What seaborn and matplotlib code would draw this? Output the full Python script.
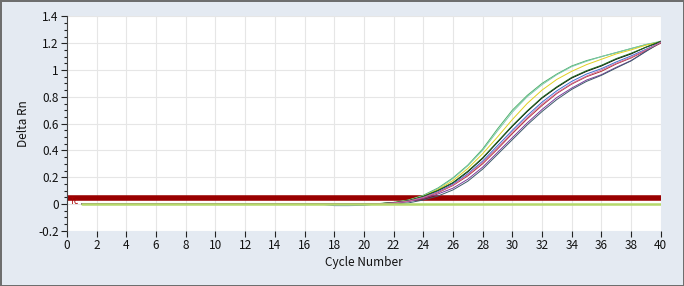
import matplotlib
matplotlib.use("Agg")
import matplotlib.pyplot as plt
import seaborn as sns
import pandas as pd
from matplotlib.ticker import MultipleLocator, FuncFormatter

sns.set_theme(style="white")
plt.rcParams['font.family'] = ['Noto Sans CJK SC', 'DejaVu Sans']

cycles = list(range(1, 41))

curve_a = [0.0, 0.0, 0.0, 0.0, 0.0, 0.0, 0.0, 0.0, 0.0, 0.0,
           0.0, 0.0, 0.0, 0.0, 0.0, 0.0, 0.0, 0.0, 0.0, 0.001,
           0.003, 0.012, 0.03, 0.065, 0.12, 0.195, 0.29, 0.41, 0.56, 0.70,
           0.81, 0.90, 0.97, 1.03, 1.07, 1.10, 1.13, 1.16, 1.19, 1.21]
curve_b = [0.0, 0.0, 0.0, 0.0, 0.0, 0.0, 0.0, 0.0, 0.0, 0.0,
           0.0, 0.0, 0.0, 0.0, 0.0, 0.0, 0.0, 0.0, 0.0, 0.001,
           0.003, 0.011, 0.028, 0.062, 0.115, 0.19, 0.285, 0.40, 0.545, 0.685,
           0.80, 0.89, 0.965, 1.025, 1.065, 1.10, 1.13, 1.16, 1.19, 1.215]
curve_c = [0.0, 0.0, 0.0, 0.0, 0.0, 0.0, 0.0, 0.0, 0.0, 0.0,
           0.0, 0.0, 0.0, 0.0, 0.0, 0.0, 0.0, 0.0, 0.0, 0.0,
           0.002, 0.01, 0.026, 0.058, 0.108, 0.175, 0.265, 0.375, 0.50, 0.63,
           0.75, 0.85, 0.93, 0.99, 1.04, 1.08, 1.12, 1.15, 1.185, 1.21]
curve_d = [0.0, 0.0, 0.0, 0.0, 0.0, 0.0, 0.0, 0.0, 0.0, 0.0,
           0.0, 0.0, 0.0, 0.0, 0.0, 0.0, 0.0, 0.0, 0.0, 0.0,
           0.002, 0.009, 0.024, 0.055, 0.10, 0.157, 0.24, 0.34, 0.46, 0.58,
           0.69, 0.79, 0.87, 0.94, 0.99, 1.03, 1.08, 1.12, 1.17, 1.21]
curve_e = [0.0, 0.0, 0.0, 0.0, 0.0, 0.0, 0.0, 0.0, 0.0, 0.0,
           0.0, 0.0, 0.0, 0.0, 0.0, 0.0, 0.0, 0.0, 0.0, 0.0,
           0.002, 0.009, 0.024, 0.056, 0.102, 0.16, 0.245, 0.345, 0.465, 0.585,
           0.695, 0.795, 0.875, 0.945, 0.995, 1.035, 1.085, 1.125, 1.17, 1.215]
curve_f = [0.0, 0.0, 0.0, 0.0, 0.0, 0.0, 0.0, 0.0, 0.0, 0.0,
           0.0, 0.0, 0.0, 0.0, 0.0, 0.0, 0.0, -0.012, -0.012, -0.01,
           0.002, 0.008, 0.022, 0.05, 0.092, 0.148, 0.225, 0.32, 0.435, 0.55,
           0.66, 0.76, 0.845, 0.915, 0.97, 1.01, 1.06, 1.105, 1.155, 1.205]
curve_g = [0.0, 0.0, 0.0, 0.0, 0.0, 0.0, 0.0, 0.0, 0.0, 0.0,
           0.0, 0.0, 0.0, 0.0, 0.0, 0.0, 0.0, 0.0, 0.0, 0.0,
           0.001, 0.007, 0.02, 0.046, 0.085, 0.138, 0.21, 0.30, 0.41, 0.525,
           0.635, 0.735, 0.825, 0.895, 0.95, 0.99, 1.045, 1.09, 1.145, 1.20]
curve_h = [0.0, 0.0, 0.0, 0.0, 0.0, 0.0, 0.0, 0.0, 0.0, 0.0,
           0.0, 0.0, 0.0, 0.0, 0.0, 0.0, 0.0, 0.0, 0.0, 0.0,
           0.001, 0.006, 0.018, 0.04, 0.075, 0.118, 0.185, 0.275, 0.385, 0.495,
           0.605, 0.705, 0.795, 0.865, 0.925, 0.965, 1.02, 1.07, 1.14, 1.21]
curve_i = [0.0, 0.0, 0.0, 0.0, 0.0, 0.0, 0.0, 0.0, 0.0, 0.0,
           0.0, 0.0, 0.0, 0.0, 0.0, 0.0, 0.0, 0.0, 0.0, 0.0,
           -0.002, 0.0, 0.008, 0.03, 0.06, 0.105, 0.17, 0.26, 0.37, 0.48,
           0.59, 0.69, 0.78, 0.855, 0.915, 0.96, 1.015, 1.068, 1.138, 1.205]
curve_j = [0.0, 0.0, 0.0, 0.0, 0.0, 0.0, 0.0, 0.0, 0.0, 0.0,
           0.0, 0.0, 0.0, 0.0, 0.0, 0.0, 0.0, 0.0, 0.0, 0.0,
           0.001, 0.007, 0.021, 0.048, 0.088, 0.142, 0.218, 0.31, 0.42, 0.535,
           0.645, 0.745, 0.83, 0.90, 0.955, 1.0, 1.05, 1.095, 1.15, 1.205]
ntc = [0.0, 0.0, 0.0, 0.0, 0.0, 0.0, 0.0, 0.0, 0.0, 0.0,
       0.0, 0.0, 0.0, 0.0, 0.0, 0.0, 0.0, 0.0, 0.0, 0.0,
       0.0, 0.0, 0.0, 0.0, 0.0, 0.0, 0.0, 0.0, 0.0, 0.0,
       0.0, 0.0, 0.0, 0.0, 0.0, 0.0, 0.0, 0.0, 0.0, 0.0]

threshold = 0.045
threshold_label = "Tc"

curve_names = ["A", "B", "C", "D", "E", "F", "G", "H", "I", "J"]
curve_values = [curve_a, curve_b, curve_c, curve_d, curve_e,
                curve_f, curve_g, curve_h, curve_i, curve_j]
curve_colors = ["#4daf6a", "#7cc8a8", "#e0d020", "#000000", "#1f6b1f",
                "#3b6fd1", "#b03030", "#7a3b9c", "#3d5a6b", "#d070a0"]

rows = []
for name, vals in zip(curve_names, curve_values):
    for c, v in zip(cycles, vals):
        rows.append({"Cycle": c, "Rn": v, "Well": name})
df = pd.DataFrame(rows)
df_ntc = pd.DataFrame({"Cycle": cycles, "Rn": ntc})

fig = plt.figure(figsize=(6.84, 2.86), dpi=100)
fig.patch.set_facecolor("#e4eaf2")
fig.patch.set_edgecolor("#6e6e6e")
fig.patch.set_linewidth(2)
ax = fig.add_axes([0.098, 0.193, 0.868, 0.752])
ax.set_facecolor("white")

ax.axhline(threshold, color="#990000", lw=4, zorder=2)

for name, col in zip(curve_names, curve_colors):
    sub = df[df["Well"] == name]
    sns.lineplot(data=sub, x="Cycle", y="Rn", color=col, lw=0.7,
                 estimator=None, ax=ax, zorder=4)
sns.lineplot(data=df_ntc, x="Cycle", y="Rn", color="#b4d96b", lw=1.8,
             estimator=None, ax=ax, zorder=5)

ax.text(0.15, 0.022, threshold_label, color="#aa0000", fontsize=6,
        va="center", ha="left", zorder=6)

ax.set_xlim(0, 40)
ax.set_ylim(-0.2, 1.405)
ax.xaxis.set_major_locator(MultipleLocator(2))
ax.yaxis.set_major_locator(MultipleLocator(0.2))
ax.yaxis.set_minor_locator(MultipleLocator(0.05))
ax.yaxis.set_major_formatter(FuncFormatter(lambda v, p: f"{v:g}" if abs(v) > 1e-9 else "0"))
ax.grid(True, which="major", color="#e6e6e6", lw=0.8)
ax.set_axisbelow(True)

for s in ["top", "right", "bottom"]:
    ax.spines[s].set_visible(False)
ax.spines["left"].set_color("#444444")
ax.spines["left"].set_linewidth(0.8)

ax.tick_params(axis="both", which="major", direction="out", length=4, width=0.8,
               color="#222222", labelsize=8.5, labelcolor="#111111", pad=2,
               left=True, bottom=True)
ax.tick_params(axis="y", which="minor", direction="out", length=2, width=0.8,
               color="#222222", left=True)

ax.set_xlabel("Cycle Number", fontsize=8.5, color="#111111", labelpad=3)
ax.set_ylabel("Delta Rn", fontsize=8.5, color="#111111", labelpad=6)

fig.savefig("out.png", dpi=100, facecolor=fig.get_facecolor(),
            edgecolor=fig.get_edgecolor())
